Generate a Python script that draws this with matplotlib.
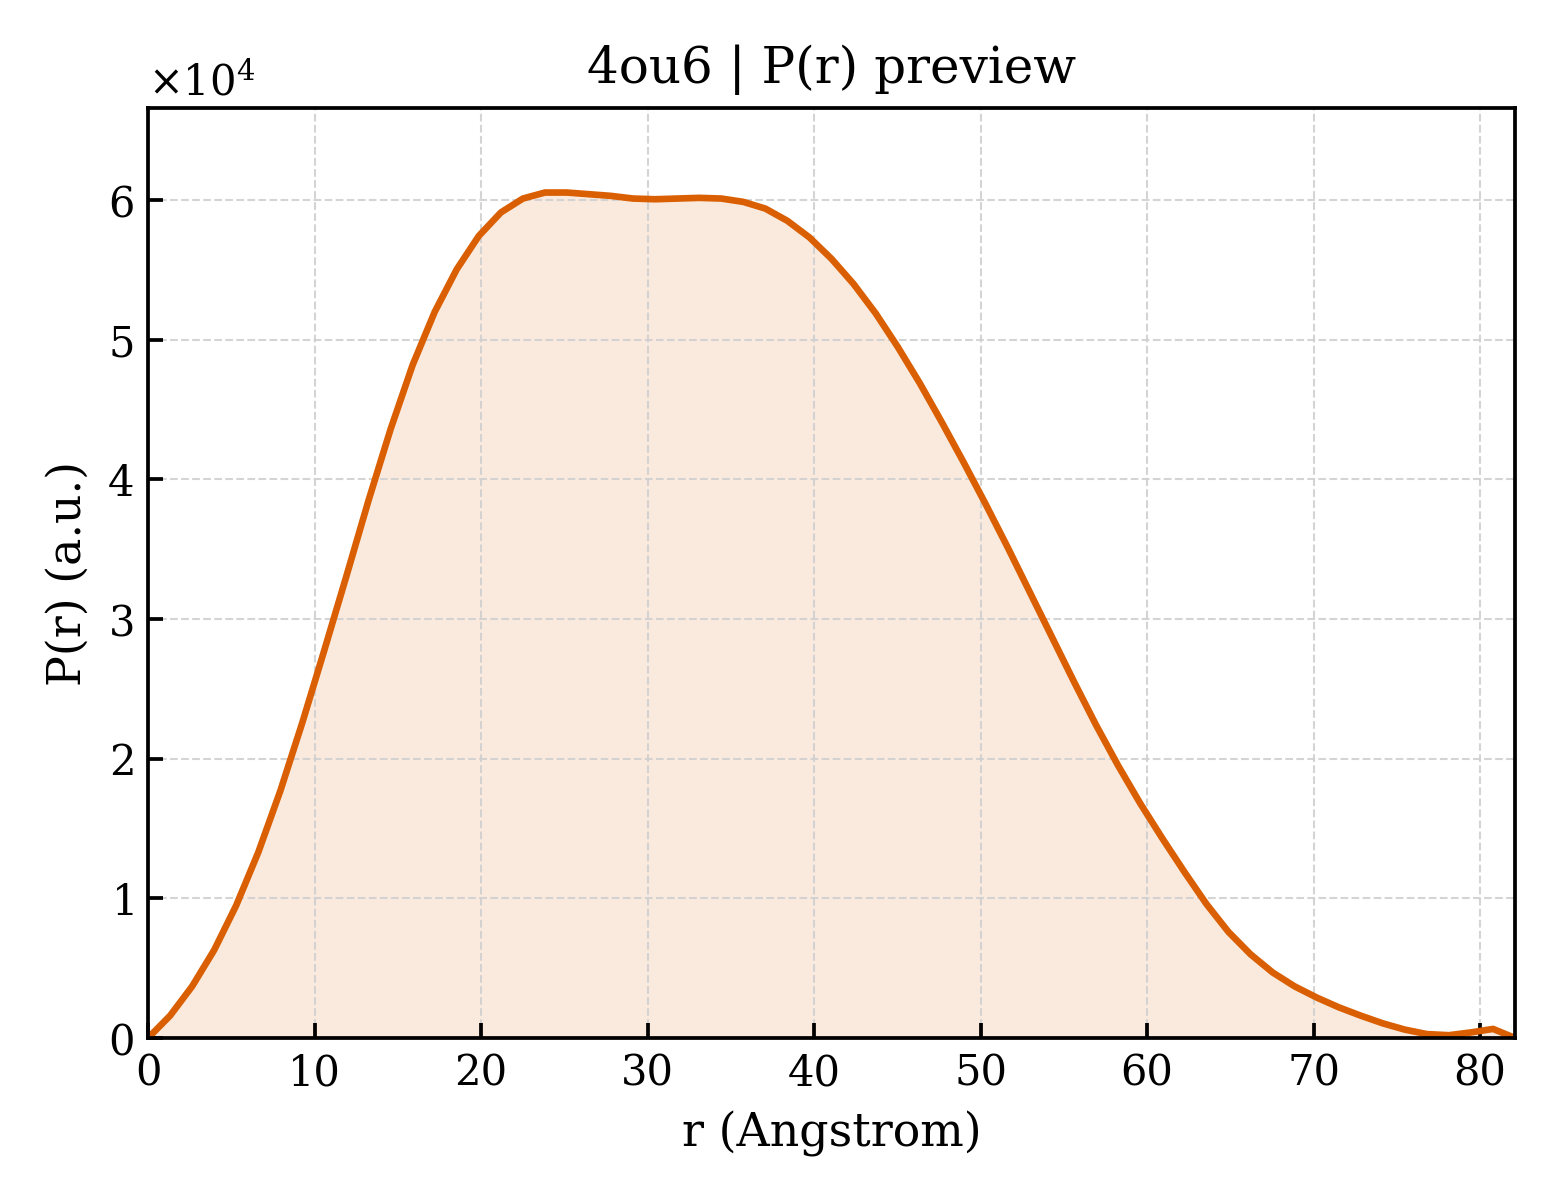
import numpy as np
import matplotlib
matplotlib.use("Agg")
import matplotlib.pyplot as plt

d_max = 82.1
pr_values = [
    0.0, 0.16, 0.37, 0.63, 0.95, 1.33, 1.77, 2.26, 2.78, 3.31,
    3.85, 4.36, 4.82, 5.20, 5.505, 5.744, 5.912, 6.012, 6.055, 6.055,
    6.043, 6.031, 6.012, 6.007, 6.012, 6.017, 6.012, 5.988, 5.94, 5.852,
    5.733, 5.58, 5.40, 5.19, 4.95, 4.69, 4.41, 4.12, 3.82, 3.51,
    3.19, 2.87, 2.55, 2.24, 1.95, 1.68, 1.43, 1.19, 0.96, 0.76,
    0.60, 0.47, 0.37, 0.29, 0.22, 0.16, 0.105, 0.06, 0.028, 0.02,
    0.04, 0.065, 0.0,
]
pr = np.array(pr_values) * 1e4
r = np.linspace(0, d_max, len(pr))

plt.rcParams["font.family"] = "DejaVu Serif"
plt.rcParams["mathtext.fontset"] = "dejavuserif"

color = "#d95f02"

fig = plt.figure(figsize=(5.2, 4), dpi=300)
ax = fig.add_axes([0.0949, 0.135, 0.8763, 0.775])

ax.fill_between(r, pr, 0, color=color, alpha=0.13, linewidth=0)
ax.plot(r, pr, color=color, lw=1.6)

ax.set_xlim(0, r.max())
ax.set_ylim(0, pr.max() * 1.1)
ax.set_xlabel("r (Angstrom)", fontsize=11)
ax.set_ylabel("P(r) (a.u.)", fontsize=11)
ax.set_title("4ou6 | P(r) preview", fontsize=12)

ax.ticklabel_format(axis="y", style="sci", scilimits=(0, 0), useMathText=True)
ax.yaxis.get_offset_text().set_fontsize(10)
ax.tick_params(direction="in", length=3.5, width=0.9, labelsize=10)
ax.grid(True, linestyle="--", linewidth=0.5, color="#d0d0d0", alpha=0.9)
for s in ax.spines.values():
    s.set_linewidth(0.9)

fig.savefig("out.png", dpi=300)
